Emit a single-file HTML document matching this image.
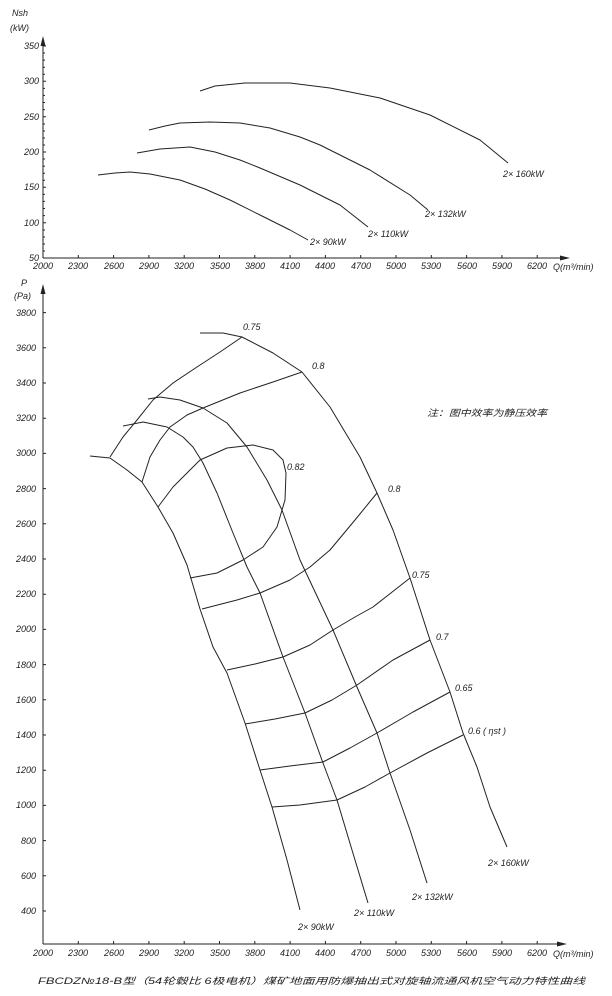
<!DOCTYPE html>
<html><head><meta charset="utf-8"><style>
html,body{margin:0;padding:0;background:#fff;width:612px;height:996px;overflow:hidden}
svg text{font-family:"Liberation Sans","Noto Sans CJK SC",sans-serif;font-style:italic;font-size:9px;fill:#222}
.c{fill:none;stroke:#222;stroke-width:1;stroke-linejoin:round}
</style></head><body>
<svg width="612" height="996" viewBox="0 0 612 996" xmlns="http://www.w3.org/2000/svg">
<!-- TOP CHART -->
<path class="c" d="M43,258 H565 M43,258 V42"/>
<polygon points="43,36 40.5,46 45.5,46" fill="#222"/>
<polygon points="570,258 560,255.5 560,260.5" fill="#222"/>
<path class="c" d="M43,258h3M43,222.7h3M43,187.3h3M43,152h3M43,116.7h3M43,81.3h3M43,46h3"/>
<path class="c" stroke-width="0.5" d="M43,251h2M43,244h2M43,237h2M43,230h2M43,215.6h2M43,208.5h2M43,201.4h2M43,194.4h2M43,180.2h2M43,173.2h2M43,166.1h2M43,159h2M43,145h2M43,138h2M43,131h2M43,124h2M43,109.6h2M43,102.5h2M43,95.4h2M43,88.4h2M43,74.2h2M43,67.2h2M43,60.1h2M43,53h2"/>
<path class="c" d="M78.3,258v-3M113.6,258v-3M148.9,258v-3M184.2,258v-3M219.5,258v-3M254.8,258v-3M290.1,258v-3M325.4,258v-3M360.7,258v-3M396,258v-3M431.3,258v-3M466.6,258v-3M501.9,258v-3M537.2,258v-3"/>
<text x="12" y="16">Nsh</text><text x="10" y="31">(kW)</text>
<g text-anchor="end">
<text x="39" y="261">50</text><text x="39" y="226">100</text><text x="39" y="190">150</text><text x="39" y="155">200</text><text x="39" y="120">250</text><text x="39" y="84">300</text><text x="39" y="49">350</text>
</g>
<g text-anchor="middle">
<text x="43" y="269">2000</text><text x="78" y="269">2300</text><text x="114" y="269">2600</text><text x="149" y="269">2900</text><text x="184" y="269">3200</text><text x="220" y="269">3500</text><text x="255" y="269">3800</text><text x="290" y="269">4100</text><text x="325" y="269">4400</text><text x="361" y="269">4700</text><text x="396" y="269">5000</text><text x="431" y="269">5300</text><text x="467" y="269">5600</text><text x="502" y="269">5900</text><text x="537" y="269">6200</text>
</g>
<text x="553" y="270" font-size="8">Q(m³/min)</text>
<polyline class="c" points="98,175 115,173 130,172 150,174 180,180 205,189 230,200 260,215 290,230 308,240"/>
<polyline class="c" points="137,153 160,149 190,147 215,152 240,160 260,168 300,185 340,205 368,227"/>
<polyline class="c" points="149,130 165,126 180,123 210,122 240,123 270,128 300,137 320,145 370,170 410,195 428,210"/>
<polyline class="c" points="200,91 215,86 245,83 290,83 330,88 380,98 430,115 480,140 508,163"/>
<text x="310" y="245">2× 90kW</text>
<text x="368" y="237">2× 110kW</text>
<text x="425" y="217">2× 132kW</text>
<text x="503" y="177">2× 160kW</text>

<!-- BOTTOM CHART -->
<path class="c" d="M43,944 H562 M43,944 V290"/>
<polygon points="43,284 40.5,294 45.5,294" fill="#222"/>
<polygon points="567,944 557,941.5 557,946.5" fill="#222"/>
<path class="c" d="M43,911h3M43,875.8h3M43,840.6h3M43,805.4h3M43,770.2h3M43,735h3M43,699.8h3M43,664.6h3M43,629.4h3M43,594.2h3M43,559h3M43,523.8h3M43,488.6h3M43,453.4h3M43,418.2h3M43,383h3M43,347.8h3M43,312.6h3"/>
<path class="c" d="M78.3,944v-3M113.6,944v-3M148.9,944v-3M184.2,944v-3M219.5,944v-3M254.8,944v-3M290.1,944v-3M325.4,944v-3M360.7,944v-3M396,944v-3M431.3,944v-3M466.6,944v-3M501.9,944v-3M537.2,944v-3"/>
<text x="21" y="286">P</text><text x="14" y="299">(Pa)</text>
<g text-anchor="end">
<text x="36" y="914">400</text><text x="36" y="879">600</text><text x="36" y="844">800</text><text x="36" y="808">1000</text><text x="36" y="773">1200</text><text x="36" y="738">1400</text><text x="36" y="703">1600</text><text x="36" y="668">1800</text><text x="36" y="632">2000</text><text x="36" y="597">2200</text><text x="36" y="562">2400</text><text x="36" y="527">2600</text><text x="36" y="492">2800</text><text x="36" y="456">3000</text><text x="36" y="421">3200</text><text x="36" y="386">3400</text><text x="36" y="351">3600</text><text x="36" y="316">3800</text>
</g>
<g text-anchor="middle">
<text x="43" y="956">2000</text><text x="78" y="956">2300</text><text x="114" y="956">2600</text><text x="149" y="956">2900</text><text x="184" y="956">3200</text><text x="220" y="956">3500</text><text x="255" y="956">3800</text><text x="290" y="956">4100</text><text x="325" y="956">4400</text><text x="361" y="956">4700</text><text x="396" y="956">5000</text><text x="431" y="956">5300</text><text x="467" y="956">5600</text><text x="502" y="956">5900</text><text x="537" y="956">6200</text>
</g>
<text x="553" y="957" font-size="8">Q(m³/min)</text>

<polyline class="c" points="90,456 110,458 127,470 142,482 158,507 173,533 187,565 200,609 213,647 227,673 245,723 260,770 272,807 287,860 300,910"/>
<polyline class="c" points="123,426 143,422 167,427 183,437 193,447 203,463 217,493 233,533 247,567 260,593 283,657 305,713 323,763 337,800 352,850 368,903"/>
<polyline class="c" points="148,399 160,397 180,400 203,408 227,423 247,447 267,480 282,510 300,560 333,630 357,687 377,733 390,773 410,830 427,883"/>
<polyline class="c" points="200,333 223,333 242,337 273,353 302,372 330,407 360,457 377,493 393,530 410,578 430,640 450,692 463,733 477,767 490,807 507,847"/>
<polyline class="c" points="110,457 123,437 137,420 153,400 173,383 197,367 220,352 242,337"/>
<polyline class="c" points="142,482 150,457 160,440 170,427 187,415 203,408 240,393 273,382 302,372"/>
<polyline class="c" points="158,507 173,487 200,460 227,448 253,445 273,450 283,460 286,473 285,500 277,527 263,547 243,560 217,573 190,578"/>
<polyline class="c" points="202,609 237,600 260,593 290,580 310,567 330,550 355,520 377,493"/>
<polyline class="c" points="227,670 255,664 283,657 310,645 333,630 355,617 373,607 410,578"/>
<polyline class="c" points="245,724 275,719 305,713 332,700 357,685 393,660 430,640"/>
<polyline class="c" points="260,770 290,766 323,762 350,748 377,733 413,712 450,692"/>
<polyline class="c" points="272,807 300,805 337,800 365,787 390,773 427,753 463,735"/>
<text x="243" y="330">0.75</text>
<text x="312" y="369">0.8</text>
<text x="287" y="470">0.82</text>
<text x="388" y="492">0.8</text>
<text x="412" y="578">0.75</text>
<text x="436" y="640">0.7</text>
<text x="455" y="691">0.65</text>
<text x="468" y="734">0.6 ( ηst )</text>
<text x="298" y="930">2× 90kW</text>
<text x="354" y="916">2× 110kW</text>
<text x="412" y="900">2× 132kW</text>
<text x="488" y="866">2× 160kW</text>
<text x="427" y="416" font-size="11" font-style="normal" textLength="120" lengthAdjust="spacingAndGlyphs">注：图中效率为静压效率</text>
<text x="38" y="984" font-size="13" textLength="547" lengthAdjust="spacingAndGlyphs">FBCDZ№18-B型（54轮毂比 6极电机）煤矿地面用防爆抽出式对旋轴流通风机空气动力特性曲线</text>
</svg>
</body></html>
